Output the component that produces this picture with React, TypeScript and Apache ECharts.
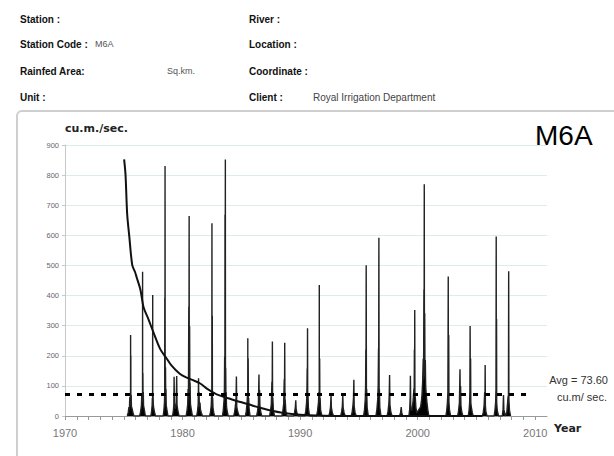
import React, { useEffect, useRef } from "react";
import * as echarts from "echarts";

// Flow duration curve (decimal year position, cu.m./sec.)
const curvePoints: [number, number][] = [
  [1975.03, 852], [1975.15, 800], [1975.29, 670], [1975.47, 596], [1975.72, 501],
  [1975.95, 479], [1976.1, 460], [1976.41, 420], [1976.69, 360], [1977.06, 325],
  [1977.5, 280], [1978.1, 222], [1978.66, 190], [1979.05, 168], [1979.76, 140],
  [1980.3, 128], [1981.0, 117], [1981.5, 108], [1982.1, 90], [1982.9, 72],
  [1984.2, 55], [1985.6, 39], [1986.5, 28], [1987.3, 20], [1988.6, 10],
  [1990, 4], [1992, 1], [1994, 0], [2005.5, 0],
];

// Daily discharge hydrograph, read per decade (decimal year, cu.m./sec.)
const flow1970s: [number, number][] = [
  [1975.3, 0], [1975.38, 12], [1975.44, 30], [1975.48, 22], [1975.5, 50], [1975.52, 64], [1975.54, 35], [1975.575, 45], [1975.58, 269], [1975.585, 50], [1975.6, 201], [1975.605, 45], [1975.63, 70], [1975.65, 32], [1975.7, 25], [1975.78, 12], [1975.86, 0],
  [1976.35, 0], [1976.43, 14], [1976.5, 35], [1976.53, 70], [1976.56, 45], [1976.595, 60], [1976.6, 479], [1976.605, 70], [1976.625, 143], [1976.64, 55], [1976.66, 80], [1976.68, 35], [1976.75, 20], [1976.84, 0],
  [1977.3, 0], [1977.36, 14], [1977.41, 35], [1977.43, 60], [1977.45, 45], [1977.46, 402], [1977.465, 55], [1977.49, 70], [1977.51, 40], [1977.55, 25], [1977.62, 12], [1977.7, 0],
  [1978.35, 0], [1978.41, 18], [1978.46, 45], [1978.48, 80], [1978.49, 393], [1978.5, 70], [1978.51, 830], [1978.52, 80], [1978.55, 162], [1978.57, 50], [1978.59, 90], [1978.61, 35], [1978.67, 20], [1978.76, 0],
  [1979.15, 0], [1979.22, 18], [1979.26, 40], [1979.28, 130], [1979.31, 30], [1979.38, 25], [1979.46, 45], [1979.5, 133], [1979.53, 35], [1979.6, 18], [1979.7, 0],
];
const flow1980s: [number, number][] = [
  [1980.3, 0], [1980.38, 18], [1980.44, 40], [1980.47, 90], [1980.5, 55], [1980.53, 363], [1980.54, 80], [1980.56, 664], [1980.57, 90], [1980.6, 298], [1980.62, 70], [1980.64, 110], [1980.67, 40], [1980.74, 22], [1980.84, 0],
  [1981.2, 0], [1981.28, 18], [1981.33, 40], [1981.36, 125], [1981.38, 35], [1981.4, 80], [1981.43, 30], [1981.48, 45], [1981.52, 22], [1981.6, 10], [1981.7, 0],
  [1982.3, 0], [1982.38, 14], [1982.44, 35], [1982.47, 70], [1982.49, 45], [1982.5, 640], [1982.51, 60], [1982.53, 333], [1982.54, 45], [1982.56, 60], [1982.59, 25], [1982.65, 12], [1982.72, 0],
  [1983.4, 0], [1983.47, 22], [1983.53, 55], [1983.56, 90], [1983.58, 197], [1983.6, 80], [1983.61, 668], [1983.62, 90], [1983.64, 852], [1983.65, 100], [1983.67, 160], [1983.69, 60], [1983.71, 80], [1983.74, 30], [1983.8, 15], [1983.88, 0],
  [1984.35, 0], [1984.43, 14], [1984.5, 35], [1984.55, 60], [1984.58, 131], [1984.61, 30], [1984.66, 20], [1984.74, 8], [1984.82, 0],
  [1985.35, 0], [1985.42, 16], [1985.48, 40], [1985.52, 70], [1985.545, 50], [1985.55, 258], [1985.555, 55], [1985.58, 192], [1985.6, 45], [1985.62, 60], [1985.66, 25], [1985.74, 0],
  [1986.3, 0], [1986.38, 16], [1986.45, 40], [1986.5, 138], [1986.52, 45], [1986.55, 86], [1986.58, 35], [1986.64, 15], [1986.74, 0],
  [1987.4, 0], [1987.48, 16], [1987.55, 40], [1987.6, 114], [1987.62, 45], [1987.64, 247], [1987.66, 45], [1987.68, 60], [1987.72, 22], [1987.82, 0],
  [1988.45, 0], [1988.53, 16], [1988.6, 40], [1988.65, 122], [1988.67, 45], [1988.69, 243], [1988.71, 40], [1988.73, 55], [1988.78, 18], [1988.88, 0],
  [1989.45, 0], [1989.53, 12], [1989.59, 28], [1989.63, 52], [1989.66, 24], [1989.74, 8], [1989.84, 0],
];
const flow1990s: [number, number][] = [
  [1990.4, 0], [1990.48, 16], [1990.55, 45], [1990.58, 90], [1990.6, 158], [1990.615, 55], [1990.63, 291], [1990.645, 60], [1990.67, 70], [1990.7, 28], [1990.8, 0],
  [1991.4, 0], [1991.48, 16], [1991.56, 45], [1991.6, 80], [1991.625, 65], [1991.63, 435], [1991.635, 75], [1991.66, 191], [1991.68, 45], [1991.7, 60], [1991.74, 20], [1991.85, 0],
  [1992.45, 0], [1992.53, 14], [1992.59, 32], [1992.63, 70], [1992.66, 28], [1992.74, 10], [1992.85, 0],
  [1993.45, 0], [1993.53, 14], [1993.59, 32], [1993.63, 70], [1993.66, 28], [1993.74, 10], [1993.85, 0],
  [1994.35, 0], [1994.43, 14], [1994.5, 38], [1994.54, 60], [1994.57, 120], [1994.6, 32], [1994.67, 12], [1994.78, 0],
  [1995.4, 0], [1995.48, 22], [1995.54, 55], [1995.57, 100], [1995.59, 221], [1995.6, 65], [1995.62, 501], [1995.64, 65], [1995.66, 90], [1995.7, 28], [1995.8, 0],
  [1996.45, 0], [1996.53, 22], [1996.6, 55], [1996.64, 100], [1996.67, 224], [1996.68, 65], [1996.7, 592], [1996.72, 65], [1996.74, 90], [1996.78, 28], [1996.88, 0],
  [1997.4, 0], [1997.48, 16], [1997.55, 42], [1997.58, 70], [1997.61, 136], [1997.64, 38], [1997.71, 14], [1997.82, 0],
  [1998.45, 0], [1998.54, 10], [1998.6, 30], [1998.64, 12], [1998.72, 0],
  [1999.25, 0], [1999.32, 22], [1999.36, 60], [1999.38, 134], [1999.41, 28], [1999.5, 18], [1999.6, 45], [1999.68, 90], [1999.7, 65], [1999.72, 220], [1999.735, 70], [1999.75, 352], [1999.765, 70], [1999.8, 60], [1999.85, 28], [1999.92, 10],
];
const flow2000s: [number, number][] = [
  [2000.25, 30], [2000.35, 60], [2000.42, 110], [2000.47, 190], [2000.5, 120], [2000.53, 420], [2000.545, 150], [2000.56, 770], [2000.575, 160], [2000.6, 341], [2000.62, 130], [2000.65, 186], [2000.68, 100], [2000.73, 70], [2000.8, 40], [2000.88, 15], [2000.95, 0],
  [2002.4, 0], [2002.47, 18], [2002.53, 45], [2002.57, 80], [2002.6, 463], [2002.61, 65], [2002.64, 269], [2002.66, 45], [2002.7, 22], [2002.8, 0],
  [2003.4, 0], [2003.48, 18], [2003.55, 45], [2003.6, 155], [2003.62, 45], [2003.65, 100], [2003.68, 35], [2003.74, 15], [2003.84, 0],
  [2004.3, 0], [2004.37, 18], [2004.42, 45], [2004.44, 80], [2004.46, 299], [2004.48, 55], [2004.5, 191], [2004.52, 45], [2004.56, 30], [2004.64, 12], [2004.72, 0],
  [2005.5, 0], [2005.58, 12], [2005.65, 35], [2005.7, 80], [2005.72, 35], [2005.74, 169], [2005.76, 35], [2005.8, 14], [2005.9, 0],
  [2006.5, 0], [2006.57, 18], [2006.63, 45], [2006.66, 90], [2006.68, 596], [2006.69, 65], [2006.71, 322], [2006.72, 45], [2006.77, 18], [2006.88, 0],
  [2007.2, 0], [2007.26, 22], [2007.3, 70], [2007.33, 22], [2007.45, 0], [2007.58, 12], [2007.65, 45], [2007.69, 65], [2007.72, 45], [2007.74, 481], [2007.76, 55], [2007.81, 18], [2007.9, 0],
];

const avgFlow = 73.6;
const avgLineEnd = 2009.5;
const xMin = 1970;
const xMax = 2011;
const yMax = 900;
const yStep = 100;

const headerLeft = [
  { bold: "Station :", value: "" },
  { bold: "Station Code :", value: "M6A" },
  { bold: "Rainfed Area:", value: "" },
  { bold: "Unit :", value: "" },
];
const headerRight = [
  { bold: "River :", value: "" },
  { bold: "Location :", value: "" },
  { bold: "Coordinate :", value: "" },
  { bold: "Client :", value: "Royal Irrigation Department" },
];

export default function App() {
  const ref = useRef<HTMLDivElement>(null);
  useEffect(() => {
    if (!ref.current) return;
    const chart = echarts.init(ref.current, null, { renderer: "svg" });
    const flow = [...flow1970s, ...flow1980s, ...flow1990s, ...flow2000s];
    const rowY = [19, 44, 71, 97];
    const hdrFont = "Liberation Sans, Arial, sans-serif";
    const graphics: any[] = [
      {
        type: "rect",
        shape: { x: 17, y: 111, width: 640, height: 400, r: 5 },
        style: { fill: "none", stroke: "#cfcfcf", lineWidth: 2 },
        z: 0,
      },
    ];
    headerLeft.forEach((h, i) => {
      graphics.push({
        type: "text", x: 20, y: rowY[i],
        style: { text: h.bold, font: `bold 10px ${hdrFont}`, fill: "#111", textVerticalAlign: "middle" },
      });
      if (h.value) {
        graphics.push({
          type: "text", x: 95, y: rowY[i],
          style: { text: h.value, font: `9px ${hdrFont}`, fill: "#555", textVerticalAlign: "middle" },
        });
      }
    });
    graphics.push({
      type: "text", x: 167, y: rowY[2],
      style: { text: "Sq.km.", font: `9px ${hdrFont}`, fill: "#555", textVerticalAlign: "middle" },
    });
    headerRight.forEach((h, i) => {
      graphics.push({
        type: "text", x: 249, y: rowY[i],
        style: { text: h.bold, font: `bold 10px ${hdrFont}`, fill: "#111", textVerticalAlign: "middle" },
      });
      if (h.value) {
        graphics.push({
          type: "text", x: 313, y: rowY[i],
          style: { text: h.value, font: `10px ${hdrFont}`, fill: "#444", textVerticalAlign: "middle" },
        });
      }
    });
    graphics.push(
      {
        type: "text", x: 65, y: 128,
        style: { text: "cu.m./sec.", font: "bold 11px DejaVu Sans, sans-serif", fill: "#222", textVerticalAlign: "middle" },
      },
      {
        type: "text", x: 535, y: 135,
        style: { text: "M6A", font: "28px Liberation Sans, Arial, sans-serif", fill: "#000", textVerticalAlign: "middle" },
      },
      {
        type: "text", x: 608, y: 380,
        style: { text: "Avg = 73.60", font: "11px Liberation Sans, Arial, sans-serif", fill: "#333", textAlign: "right", textVerticalAlign: "middle" },
      },
      {
        type: "text", x: 607, y: 397,
        style: { text: "cu.m/ sec.", font: "11px Liberation Sans, Arial, sans-serif", fill: "#333", textAlign: "right", textVerticalAlign: "middle" },
      },
      {
        type: "text", x: 554, y: 428,
        style: { text: "Year", font: "bold 11px DejaVu Sans, sans-serif", fill: "#222", textVerticalAlign: "middle" },
      }
    );

    chart.setOption({
      animation: false,
      backgroundColor: "#fff",
      grid: { left: 65, right: 67, top: 145, bottom: 40 },
      xAxis: {
        type: "value",
        min: xMin,
        max: xMax,
        interval: 1,
        axisLine: { show: true, lineStyle: { color: "#999", width: 1 } },
        axisTick: { show: true, length: 4, lineStyle: { color: "#999" } },
        splitLine: { show: false },
        axisLabel: {
          fontSize: 11,
          color: "#777",
          margin: 11,
          fontFamily: "Liberation Sans, Arial, sans-serif",
          showMaxLabel: false,
          formatter: (v: number) => (Math.round(v) % 10 === 0 ? String(Math.round(v)) : ""),
        },
      },
      yAxis: {
        type: "value",
        min: 0,
        max: yMax,
        interval: yStep,
        axisLine: { show: true, lineStyle: { color: "#c8c8c8" } },
        axisTick: { show: true, length: 3, lineStyle: { color: "#c8c8c8" } },
        axisLabel: { fontSize: 7.5, color: "#666", margin: 6, fontFamily: "Liberation Sans, Arial, sans-serif" },
        splitLine: { show: true, lineStyle: { color: "#dcecec", width: 1 } },
      },
      series: [
        {
          type: "line",
          data: flow,
          showSymbol: false,
          symbol: "none",
          lineStyle: { color: "#222", width: 1.4 },
          areaStyle: { color: "#000", opacity: 1 },
          z: 2,
          markLine: {
            silent: true,
            symbol: "none",
            label: { show: false },
            lineStyle: { color: "#000", width: 3, type: [5, 7] },
            data: [[{ coord: [xMin, avgFlow] }, { coord: [avgLineEnd, avgFlow] }]],
          },
        },
        {
          type: "line",
          data: curvePoints,
          showSymbol: false,
          symbol: "none",
          smooth: 0.3,
          lineStyle: { color: "#111", width: 2 },
          z: 3,
        },
      ],
      graphic: graphics,
    });
    return () => chart.dispose();
  }, []);
  return (
    <div
      ref={ref}
      style={{ position: "fixed", left: 0, top: 0, width: 614, height: 456, background: "#fff" }}
    />
  );
}
